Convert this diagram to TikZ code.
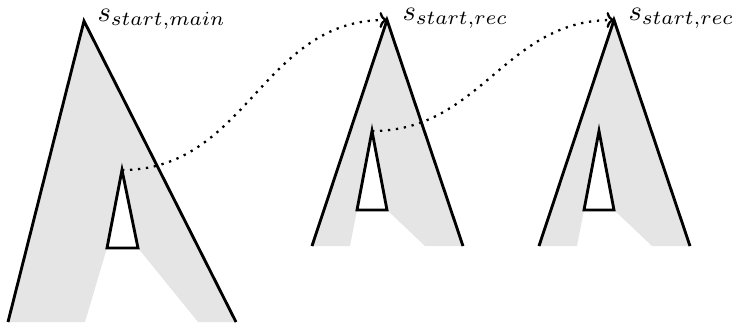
\documentclass[tikz,border=0pt]{standalone}
\usetikzlibrary{arrows.meta}
\begin{document}
\begin{tikzpicture}[x=0.35pt,y=-0.35pt,
  outline/.style={line width=1pt, line join=miter},
  region/.style={fill=black!10},
  hole/.style={draw, line width=1pt, fill=white, line join=miter},
  link/.style={dotted, line width=0.8pt, -{To[width=5.6pt,length=2.6pt]}, looseness=1.05},
  tag/.style={anchor=base west, inner sep=0pt}]
\useasboundingbox (0,0) rectangle (732,324);

% ---- main search tree ----
\coordinate (a1) at (84,21);
\coordinate (l1) at (8,322);
\coordinate (r1) at (236,322);
\coordinate (i1) at (122,170);
\fill[region] (a1) -- (l1) -- (85,322) -- (107,248) -- (138,248) -- (198,322) -- (r1) -- cycle;
\draw[outline] (l1) -- (a1) -- (r1);
\draw[hole] (i1) -- (107,248) -- (138,248) -- cycle;
\node[tag] (t1) at ([shift={(13,0)}]a1) {$s_{start,main}$};

% ---- first recursive tree ----
\coordinate (a2) at (387,20);
\coordinate (l2) at (312,246);
\coordinate (r2) at (463,246);
\coordinate (i2) at (372,131);
\fill[region] (a2) -- (l2) -- (350,246) -- (357,210) -- (387,210) -- (425,246) -- (r2) -- cycle;
\draw[outline] (l2) -- (a2) -- (r2);
\draw[hole] (i2) -- (357,210) -- (387,210) -- cycle;
\node[tag] (t2) at ([shift={(15,0)}]a2) {$s_{start,rec}$};

% ---- second recursive tree ----
\coordinate (a3) at (614,20);
\coordinate (l3) at (539,246);
\coordinate (r3) at (690,246);
\coordinate (i3) at (599,131);
\fill[region] (a3) -- (l3) -- (577,246) -- (584,210) -- (614,210) -- (652,246) -- (r3) -- cycle;
\draw[outline] (l3) -- (a3) -- (r3);
\draw[hole] (i3) -- (584,210) -- (614,210) -- cycle;
\node[tag] (t3) at ([shift={(14,0)}]a3) {$s_{start,rec}$};

% ---- recursive calls ----
\draw[link] (i1) to[out=0, in=180] (a2);
\draw[link] (i2) to[out=0, in=180] (a3);
\end{tikzpicture}
\end{document}
